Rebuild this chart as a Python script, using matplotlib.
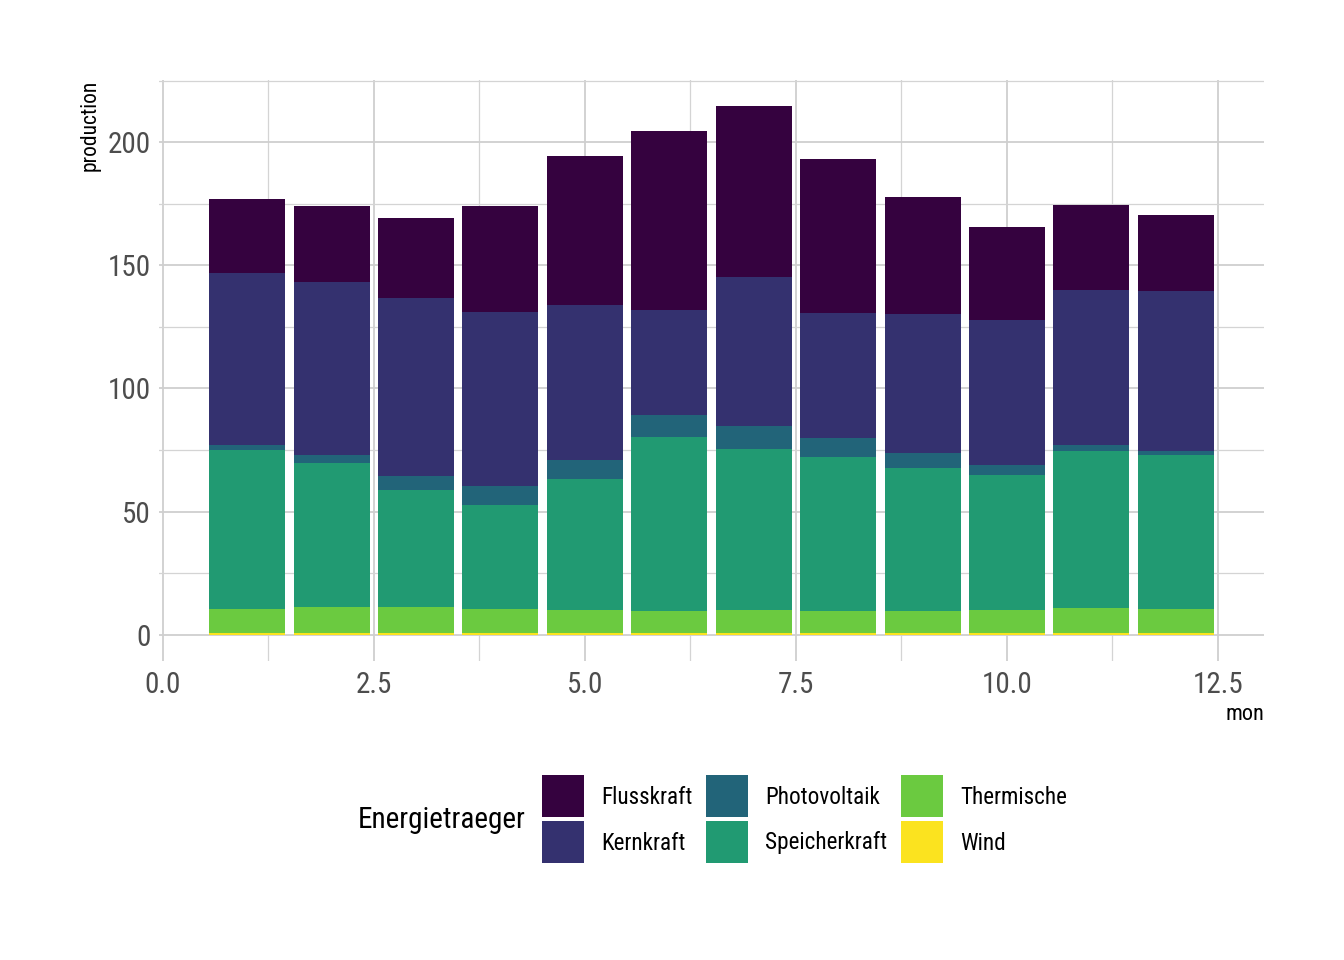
import matplotlib
matplotlib.use("Agg")
import matplotlib.pyplot as plt
import matplotlib.font_manager as fm
from matplotlib.patches import Rectangle
import numpy as np

# months and stacked production per energy source
mon = [1, 2, 3, 4, 5, 6, 7, 8, 9, 10, 11, 12]
wind = [0.5, 0.5, 0.5, 0.5, 0.5, 0.5, 0.5, 0.5, 0.5, 0.5, 0.5, 0.5]
thermische = [10.0, 10.9, 10.9, 10.0, 9.6, 9.2, 9.6, 9.2, 9.2, 9.6, 10.5, 10.0]
speicherkraft = [64.5, 58.4, 47.4, 42.2, 53.2, 70.6, 65.4, 62.5, 58.0, 54.8, 63.6, 62.5]
photovoltaik = [2.1, 3.2, 5.7, 7.7, 7.7, 8.9, 9.3, 7.7, 6.1, 4.1, 2.5, 1.6]
kernkraft = [69.8, 70.2, 72.2, 70.6, 62.9, 42.6, 60.4, 50.7, 56.4, 58.8, 62.9, 65.0]
flusskraft = [30.0, 30.8, 32.5, 43.0, 60.4, 72.7, 69.4, 62.5, 47.5, 37.7, 34.4, 30.8]

labels = ['Flusskraft', 'Kernkraft', 'Photovoltaik', 'Speicherkraft', 'Thermische', 'Wind']
colors = ['#35023f', '#34316f', '#226479', '#219a72', '#6bca40', '#fbe31f']

# look for a narrow font (reference uses an Arial Narrow look), else Roboto
def pick_font():
    pref = ['Liberation Sans Narrow', 'Roboto Condensed', 'Noto Sans', 'Open Sans', 'DejaVu Sans']
    found = {}
    for f in fm.fontManager.ttflist:
        if f.style != 'normal' or f.weight not in (400, 'normal', 'regular'):
            continue
        narrow = ('Narrow' in f.name or 'Condensed' in f.name
                  or str(f.stretch) in ('condensed', 'semi-condensed', '300', '400', '375'))
        if narrow:
            found.setdefault(f.name, f.fname)
    for p in pref:
        if p in found:
            return dict(fname=found[p])
    return dict(family='Roboto')

FONT = pick_font()
narrow_font = 'fname' in FONT
scale = 1.0 if narrow_font else 0.88

def fp(size):
    return fm.FontProperties(size=size * scale, **FONT)

# stacked from the bottom: Wind first, Flusskraft on top
stack = [wind, thermische, speicherkraft, photovoltaik, kernkraft, flusskraft]
stack_cols = [colors[5], colors[4], colors[3], colors[2], colors[1], colors[0]]

fig = plt.figure(figsize=(13.44, 9.6), dpi=100)
W, H = 1344, 960
ax = fig.add_axes([159 / W, 1 - 661 / H, (1264 - 159) / W, (661 - 80) / H])

bottom = np.zeros(len(mon))
for vals, c in zip(stack, stack_cols):
    ax.bar(mon, vals, width=0.9, bottom=bottom, color=c, linewidth=0, zorder=3)
    bottom += np.array(vals)

ax.set_xlim(-0.045, 13.045)
ax.set_ylim(-10.73, 225.3)
ax.set_xticks([0, 2.5, 5, 7.5, 10, 12.5])
ax.set_xticklabels(['0.0', '2.5', '5.0', '7.5', '10.0', '12.5'])
ax.set_yticks([0, 50, 100, 150, 200])
ax.set_xticks([1.25, 3.75, 6.25, 8.75, 11.25], minor=True)
ax.set_yticks([25, 75, 125, 175, 225], minor=True)
ax.grid(which='major', color='#cfcfcf', linewidth=1.3, zorder=0)
ax.grid(which='minor', color='#d4d4d4', linewidth=0.9, zorder=0)
ax.set_axisbelow(True)
for s in ax.spines.values():
    s.set_visible(False)
ax.tick_params(which='both', length=0, colors='#4d4d4d')
ax.tick_params(axis='x', pad=7)
ax.tick_params(axis='y', pad=6)
for t in ax.get_xticklabels() + ax.get_yticklabels():
    t.set_fontproperties(fp(21))

fig.text(90 / W, 1 - 80 / H, 'production', rotation=90, ha='center', va='top',
         fontproperties=fp(15.5))
fig.text(1264 / W, 1 - 714 / H, 'mon', ha='right', va='center', fontproperties=fp(16))

# legend: title on the left, keys in 3 columns x 2 rows
fig.text(358 / W, 1 - 820 / H, 'Energietraeger', ha='left', va='center',
         fontproperties=fp(21))
key_x = [542, 706, 901]
if not narrow_font:
    key_x = [542, 700, 890]
row_y = [775, 821]
for i, (lab, c) in enumerate(zip(labels, colors)):
    col, row = i // 2, i % 2
    x0, y0 = key_x[col], row_y[row]
    fig.add_artist(Rectangle((x0 / W, 1 - (y0 + 42) / H), 42 / W, 42 / H,
                             transform=fig.transFigure, facecolor=c, edgecolor='none'))
    fig.text((x0 + 59) / W, 1 - (y0 + 22) / H, lab, ha='left', va='center',
             fontproperties=fp(16.7))

fig.savefig('out.png', dpi=100)
